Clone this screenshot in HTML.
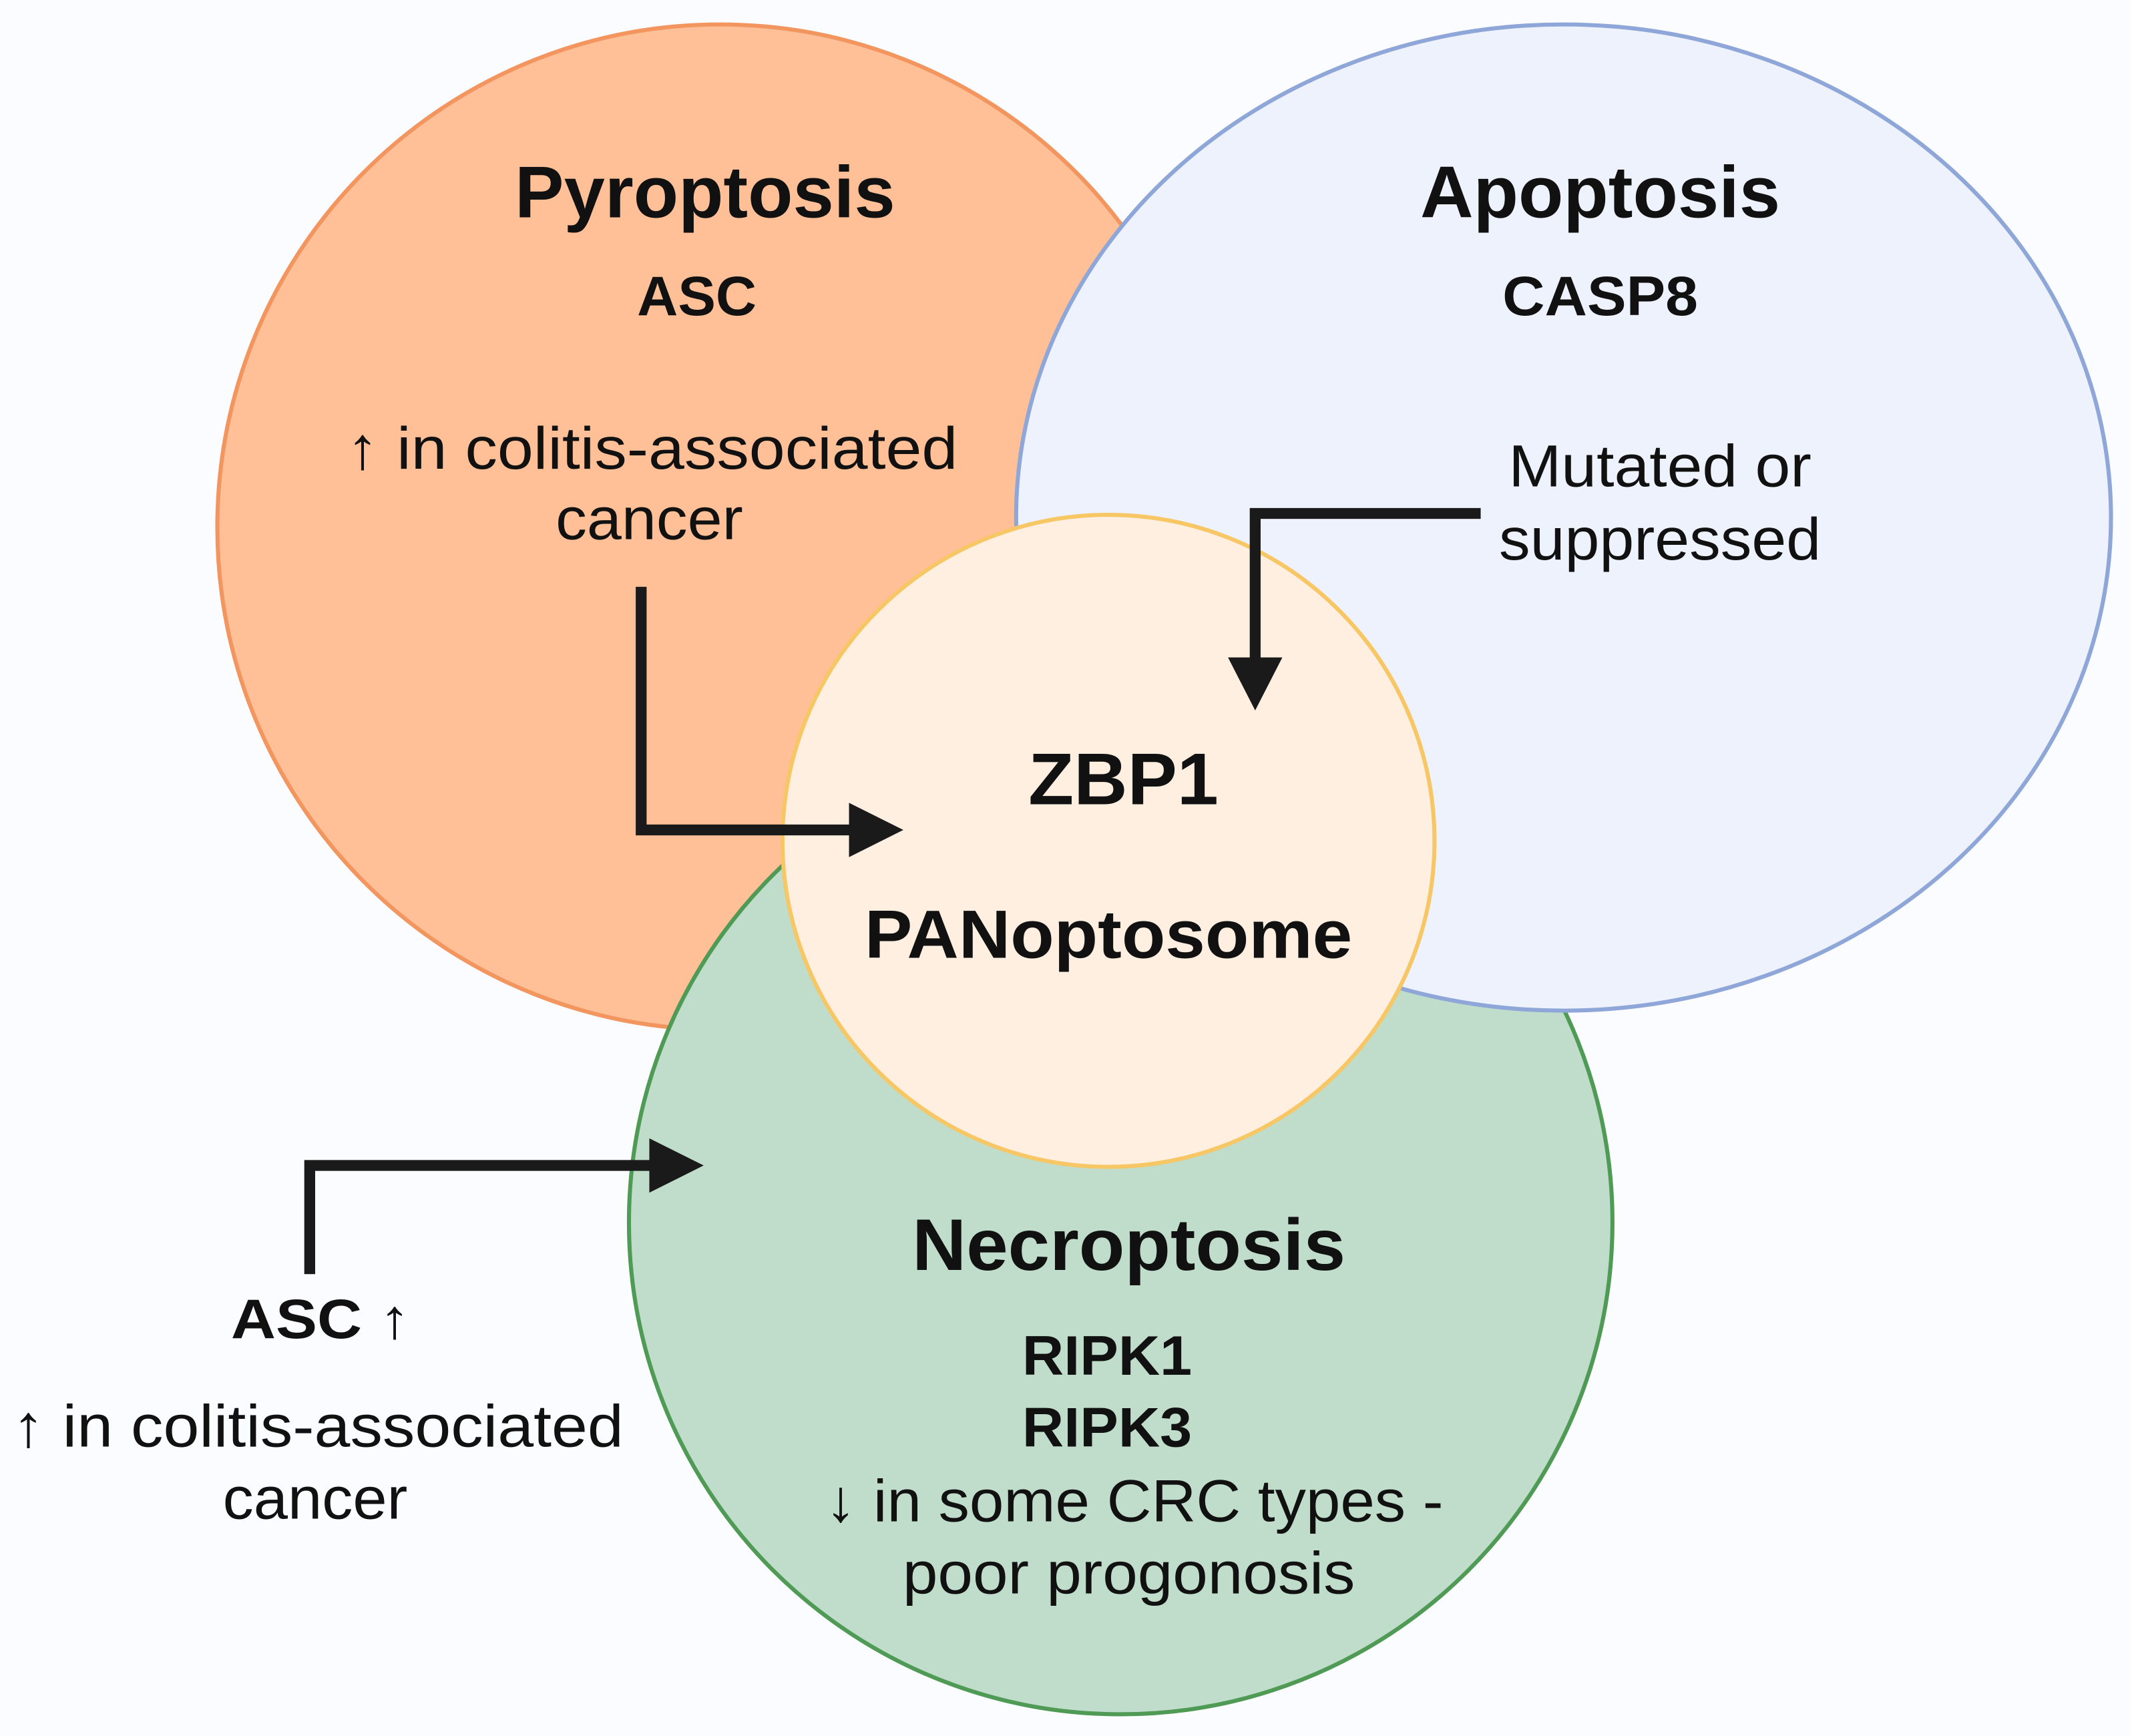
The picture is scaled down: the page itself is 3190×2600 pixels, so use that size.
<!DOCTYPE html>
<html><head><meta charset="utf-8"><style>
html,body{margin:0;padding:0;background:#fbfcff;}
svg{display:block;}
text{font-family:"Liberation Sans",Arial,sans-serif;fill:#111;}
.b{font-weight:bold;}
</style></head><body>
<svg width="3190" height="2600" viewBox="0 0 1568 1278" preserveAspectRatio="none" xmlns="http://www.w3.org/2000/svg">
<rect width="1568" height="1278" fill="#fbfcff"/>
<circle cx="530" cy="388" r="370" fill="#ffc097" stroke="#f2955f" stroke-width="3"/>
<circle cx="825" cy="900" r="362" fill="#c0dccb" stroke="#4f9a55" stroke-width="3"/>
<ellipse cx="1151" cy="381" rx="403" ry="363" fill="#eef2fc" stroke="#8ea7d8" stroke-width="3"/>
<circle cx="816" cy="619" r="240" fill="#ffefe0" stroke="#f7c766" stroke-width="3"/>

<g fill="none" stroke="#1a1a1a" stroke-width="8">
<polyline points="472,432 472,611 632,611"/>
<polyline points="1090,378 924,378 924,490"/>
<polyline points="228,938 228,858 482,858"/>
</g>
<g fill="#1a1a1a">
<polygon points="625,591 665,611 625,631"/>
<polygon points="904,484 924,523 944,484"/>
<polygon points="478,838 518,858 478,878"/>
</g>

<text class="b" x="519" y="160" font-size="54" text-anchor="middle" textLength="280" lengthAdjust="spacingAndGlyphs">Pyroptosis</text>
<text class="b" x="513" y="232" font-size="41" text-anchor="middle" textLength="88" lengthAdjust="spacingAndGlyphs">ASC</text>
<text x="480" y="345" font-size="44" text-anchor="middle" textLength="450" lengthAdjust="spacingAndGlyphs"><tspan font-weight="bold">↑</tspan> in colitis-associated</text>
<text x="478" y="397" font-size="44" text-anchor="middle" textLength="138" lengthAdjust="spacingAndGlyphs">cancer</text>

<text class="b" x="1178" y="160" font-size="54" text-anchor="middle" textLength="265" lengthAdjust="spacingAndGlyphs">Apoptosis</text>
<text class="b" x="1178" y="232" font-size="41" text-anchor="middle" textLength="144" lengthAdjust="spacingAndGlyphs">CASP8</text>
<text x="1222" y="358" font-size="44" text-anchor="middle" textLength="223" lengthAdjust="spacingAndGlyphs">Mutated or</text>
<text x="1222" y="412" font-size="44" text-anchor="middle" textLength="237" lengthAdjust="spacingAndGlyphs">suppressed</text>

<text class="b" x="827" y="592" font-size="54" text-anchor="middle" textLength="140" lengthAdjust="spacingAndGlyphs">ZBP1</text>
<text class="b" x="816" y="705" font-size="50" text-anchor="middle" textLength="359" lengthAdjust="spacingAndGlyphs">PANoptosome</text>

<text class="b" x="831" y="935" font-size="54" text-anchor="middle" textLength="319" lengthAdjust="spacingAndGlyphs">Necroptosis</text>
<text class="b" x="815" y="1012" font-size="41" text-anchor="middle" textLength="125" lengthAdjust="spacingAndGlyphs">RIPK1</text>
<text class="b" x="815" y="1065" font-size="41" text-anchor="middle" textLength="125" lengthAdjust="spacingAndGlyphs">RIPK3</text>
<text x="835" y="1120" font-size="44" text-anchor="middle" textLength="455" lengthAdjust="spacingAndGlyphs"><tspan font-weight="bold">↓</tspan> in some CRC types -</text>
<text x="831" y="1173" font-size="44" text-anchor="middle" textLength="333" lengthAdjust="spacingAndGlyphs">poor progonosis</text>

<text class="b" x="236" y="985" font-size="41" text-anchor="middle" textLength="132" lengthAdjust="spacingAndGlyphs">ASC ↑</text>
<text x="234" y="1065" font-size="44" text-anchor="middle" textLength="450" lengthAdjust="spacingAndGlyphs"><tspan font-weight="bold">↑</tspan> in colitis-associated</text>
<text x="232" y="1118" font-size="44" text-anchor="middle" textLength="136" lengthAdjust="spacingAndGlyphs">cancer</text>
</svg>
</body></html>
